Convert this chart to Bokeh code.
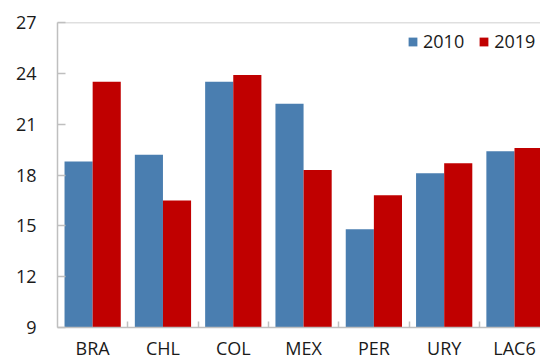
from bokeh.plotting import figure
from bokeh.models import ColumnDataSource, FixedTicker, Span, Legend, LegendItem, Range1d
from bokeh.embed import file_html
from bokeh.resources import INLINE

categories = ["BRA", "CHL", "COL", "MEX", "PER", "URY", "LAC6"]
y2010 = [18.8, 19.2, 23.5, 22.2, 14.8, 18.1, 19.4]
y2019 = [23.5, 16.5, 23.9, 18.3, 16.8, 18.7, 19.6]
yticks = [9, 12, 15, 18, 21, 24, 27]
series = ["2010", "2019"]

BLUE = "#4A7EB0"
RED = "#C00000"
GRAY = "#BFBFBF"
FONT = "Open Sans"
FS = "18px"

n = len(categories)
centers = [i + 0.5 for i in range(n)]
bw = 0.4
src = ColumnDataSource(dict(
    x1=[c - bw / 2 for c in centers],
    x2=[c + bw / 2 for c in centers],
    y1=y2010,
    y2=y2019,
))

p = figure(width=540, height=362, x_range=Range1d(0, 6.87), y_range=Range1d(yticks[0], yticks[-1]),
           output_backend="svg", toolbar_location=None)
p.min_border_left = 57
p.min_border_top = 22
p.min_border_right = 0
p.min_border_bottom = 35
p.outline_line_color = None
p.xgrid.visible = False
p.ygrid.visible = False
p.background_fill_color = "white"
p.border_fill_color = "white"

r1 = p.vbar(x="x1", top="y1", bottom=yticks[0], width=bw, source=src, fill_color=BLUE, line_color=None)
r2 = p.vbar(x="x2", top="y2", bottom=yticks[0], width=bw, source=src, fill_color=RED, line_color=None)

p.add_layout(Span(location=yticks[-1], dimension="width", line_color=GRAY, line_width=1.5))

# y axis
ya = p.yaxis[0]
ya.ticker = FixedTicker(ticks=yticks)
ya.major_tick_in = 8
ya.major_tick_out = 0
ya.minor_tick_line_color = None
ya.axis_line_color = GRAY
ya.axis_line_width = 1.5
ya.major_tick_line_color = GRAY
ya.major_tick_line_width = 1.5
ya.major_label_standoff = 21
ya.major_label_text_font = FONT
ya.major_label_text_font_size = FS
ya.major_label_text_color = "#1a1a1a"

# x axis
xa = p.xaxis[0]
xa.ticker = FixedTicker(ticks=centers, minor_ticks=list(range(1, n)))
xa.major_label_overrides = {c: lab for c, lab in zip(centers, categories)}
xa.major_tick_in = 0
xa.major_tick_out = 0
xa.minor_tick_in = 6
xa.minor_tick_out = 0
xa.minor_tick_line_color = GRAY
xa.minor_tick_line_width = 1.5
xa.axis_line_color = GRAY
xa.axis_line_width = 1.5
xa.major_label_standoff = 8
xa.major_label_text_font = FONT
xa.major_label_text_font_size = FS
xa.major_label_text_color = "#1a1a1a"

legend = Legend(items=[LegendItem(label=series[0], renderers=[r1]),
                       LegendItem(label=series[1], renderers=[r2])],
                location=(350, 274), orientation="horizontal",
                label_text_font=FONT, label_text_font_size=FS, label_text_color="#1a1a1a",
                glyph_width=11, glyph_height=11, label_standoff=5, spacing=14,
                padding=0, margin=0,
                background_fill_alpha=0, border_line_color=None)
p.add_layout(legend)

open("out.html", "w").write(file_html(p, INLINE))
